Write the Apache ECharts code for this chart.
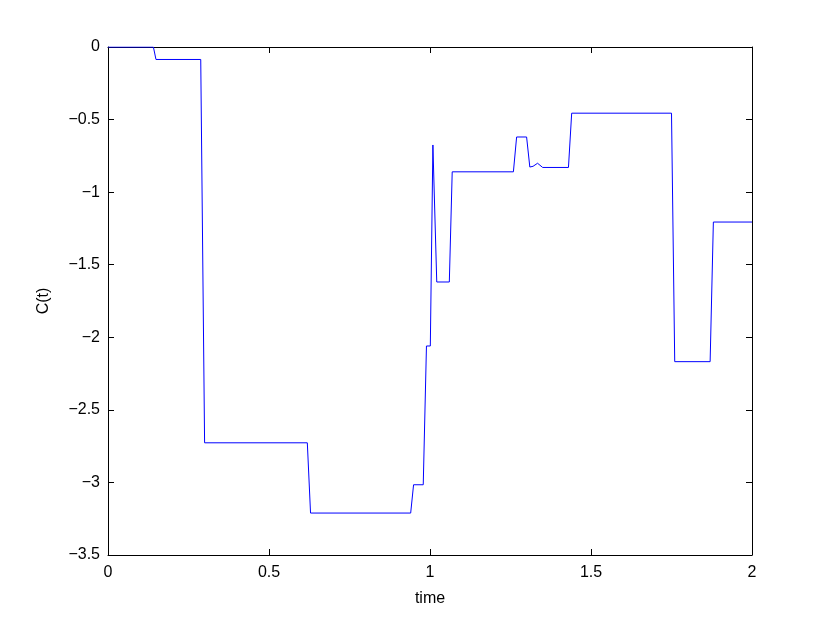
<!DOCTYPE html>
<html>
<head>
<meta charset="utf-8">
<script src="https://cdn.jsdelivr.net/npm/echarts@6/dist/echarts.min.js"></script>
<style>html,body{margin:0;padding:0;background:#fff}#c{width:830px;height:625px}</style>
</head>
<body>
<div id="c"></div>
<script>
const times = [0, 0.141, 0.149, 0.288, 0.300, 0.619, 0.629, 0.940, 0.949, 0.979, 0.989, 1.001, 1.009, 1.021, 1.060, 1.069, 1.259, 1.269, 1.300, 1.310, 1.320, 1.334, 1.350, 1.430, 1.440, 1.750, 1.760, 1.870, 1.880, 2.0];
const values = [0, 0, -0.086, -0.086, -2.727, -2.727, -3.211, -3.211, -3.016, -3.016, -2.060, -2.060, -0.675, -1.619, -1.619, -0.860, -0.860, -0.620, -0.620, -0.827, -0.822, -0.801, -0.830, -0.830, -0.456, -0.456, -2.168, -2.168, -1.206, -1.206];
const xTicks = [0, 0.5, 1, 1.5, 2];
const yTicks = [-3.5, -3, -2.5, -2, -1.5, -1, -0.5, 0];
const xName = 'time';
const yName = 'C(t)';

const font = 'Liberation Sans, Arial, Helvetica, sans-serif';
const fmt = v => (v < 0 ? '\u2212' : '') + String(Math.abs(Math.round(v * 10) / 10));
const chart = echarts.init(document.getElementById('c'));
const axisLine = {show: true, onZero: false, lineStyle: {color: '#000', width: 1}};
const tick = {show: true, inside: true, length: 6, lineStyle: {color: '#000'}};
chart.setOption({
  animation: false,
  backgroundColor: '#fff',
  grid: {left: 108, right: 78, top: 47, bottom: 70, containLabel: false},
  xAxis: [{
    type: 'value', position: 'bottom', min: xTicks[0], max: xTicks[xTicks.length - 1], interval: 0.5,
    name: xName, nameLocation: 'middle', nameGap: 36,
    nameTextStyle: {fontFamily: font, fontSize: 16, color: '#000'},
    axisLine: axisLine, axisTick: tick, splitLine: {show: false},
    axisLabel: {fontFamily: font, fontSize: 16, color: '#000', margin: 10, formatter: fmt}
  }, {
    type: 'value', position: 'top', min: xTicks[0], max: xTicks[xTicks.length - 1], interval: 0.5,
    axisLine: axisLine, axisTick: tick, axisLabel: {show: false}, splitLine: {show: false}
  }],
  yAxis: [{
    type: 'value', position: 'left', min: yTicks[0], max: yTicks[yTicks.length - 1], interval: 0.5,
    name: yName, nameLocation: 'middle', nameGap: 56, nameRotate: 90,
    nameTextStyle: {fontFamily: font, fontSize: 16, color: '#000'},
    axisLine: axisLine, axisTick: tick, splitLine: {show: false},
    axisLabel: {fontFamily: font, fontSize: 16, color: '#000', margin: 8, formatter: fmt}
  }, {
    type: 'value', position: 'right', min: yTicks[0], max: yTicks[yTicks.length - 1], interval: 0.5,
    axisLine: axisLine, axisTick: tick, axisLabel: {show: false}, splitLine: {show: false}
  }],
  series: [{
    type: 'line', xAxisIndex: 0, yAxisIndex: 0,
    data: times.map((t, i) => [t, values[i]]),
    showSymbol: false, symbol: 'none',
    lineStyle: {color: '#0000ff', width: 1}
  }]
});
</script>
</body>
</html>
